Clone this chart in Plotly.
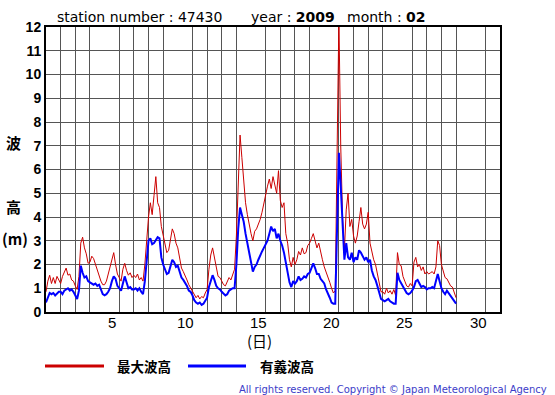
import numpy as np
import plotly.graph_objects as go

# ---------------- data (3-hourly readings, Feb 2009, station 47430) ----------------
station = "47430"
year = "2009"
month = "02"
start_day = 1
steps_per_day = 8

# significant wave height (m), 8 values per day, day 1 .. day 28, plus final value
sig_height = [
    0.4, 0.65, 0.8, 0.75, 0.8, 0.7, 0.8, 0.85,      # 1
    0.85, 0.75, 0.9, 0.95, 1.0, 0.9, 0.95, 0.85,    # 2
    0.7, 0.55, 0.9, 1.95, 1.65, 1.45, 1.5, 1.3,     # 3
    1.25, 1.2, 1.15, 1.2, 1.1, 1.15, 0.95, 0.75,    # 4
    0.7, 0.75, 0.85, 1.0, 1.3, 1.5, 1.4, 1.1,       # 5
    1.0, 0.9, 1.2, 1.5, 1.25, 1.0, 1.05, 0.95,      # 6
    0.95, 1.0, 0.9, 1.0, 0.85, 0.75, 1.3, 2.2,      # 7
    3.0, 3.1, 2.85, 2.9, 3.0, 3.15, 3.1, 2.3,       # 8
    2.0, 1.75, 1.6, 1.65, 1.9, 2.2, 2.1, 1.9,       # 9
    1.95, 1.7, 1.45, 1.35, 1.25, 1.1, 0.9, 0.85,    # 10
    0.7, 0.5, 0.4, 0.35, 0.4, 0.3, 0.35, 0.45,      # 11
    0.6, 1.05, 1.35, 1.55, 1.35, 1.1, 1.0, 0.95,    # 12
    0.85, 0.75, 0.7, 0.75, 0.9, 0.95, 1.0, 1.0,     # 13
    2.0, 3.5, 4.4, 4.1, 3.8, 3.3, 2.9, 2.4,         # 14
    2.1, 1.7, 1.9, 2.0, 2.2, 2.4, 2.55, 2.7,        # 15
    2.85, 3.0, 3.3, 3.6, 3.4, 3.5, 3.1, 3.3,        # 16
    3.0, 2.8, 2.5, 2.1, 1.8, 1.25, 1.05, 1.3,       # 17
    1.2, 1.3, 1.5, 1.35, 1.4, 1.5, 1.45, 1.6,       # 18
    1.65, 1.9, 2.05, 1.85, 1.6, 1.6, 1.4, 1.3,      # 19
    1.2, 0.95, 0.8, 0.6, 0.4, 0.35, 0.35, 3.8,      # 20
    6.7, 5.3, 3.4, 2.2, 2.9, 2.3, 2.2, 2.5,         # 21
    2.1, 2.3, 2.2, 2.6, 2.5, 2.35, 2.2, 2.3,        # 22
    2.1, 2.2, 1.75, 1.5, 1.35, 1.1, 0.8, 0.55,      # 23
    0.5, 0.45, 0.5, 0.55, 0.45, 0.4, 0.35, 0.35,    # 24
    1.65, 1.35, 1.2, 1.05, 0.95, 0.8, 0.75, 0.8,    # 25
    0.9, 1.05, 1.3, 1.35, 1.2, 1.05, 1.1, 1.05,     # 26
    0.95, 1.0, 1.0, 1.05, 1.0, 1.3, 1.6, 1.3,       # 27
    1.0, 0.85, 0.75, 0.9, 0.8, 0.65, 0.55, 0.5,     # 28
    0.35,
]

# maximum wave height (m)
max_height = [
    0.85, 1.3, 1.55, 1.2, 1.45, 1.2, 1.5, 1.35,     # 1
    1.2, 1.5, 1.7, 1.85, 1.55, 1.6, 1.35, 1.3,      # 2
    1.1, 0.95, 1.5, 2.9, 3.15, 2.7, 2.45, 2.05,     # 3
    2.1, 2.35, 2.25, 2.0, 1.7, 1.45, 1.3, 1.15,     # 4
    1.15, 1.3, 1.6, 1.95, 2.3, 2.5, 2.0, 1.6,       # 5
    1.45, 1.3, 1.8, 2.05, 1.75, 1.55, 1.65, 1.45,   # 6
    1.55, 1.45, 1.6, 1.35, 1.45, 1.3, 2.0, 3.2,     # 7
    4.0, 4.6, 4.1, 4.9, 5.7, 4.6, 4.4, 3.6,         # 8
    3.2, 2.75, 2.5, 2.6, 3.1, 3.5, 3.3, 2.9,        # 9
    2.7, 2.2, 1.85, 1.7, 1.55, 1.35, 1.15, 1.0,     # 10
    0.85, 0.75, 0.6, 0.7, 0.55, 0.65, 0.6, 0.8,     # 11
    0.95, 1.8, 2.4, 2.7, 2.3, 1.9, 1.5, 1.45,       # 12
    1.3, 1.15, 1.1, 1.25, 1.45, 1.35, 1.55, 1.8,    # 13
    3.2, 5.5, 7.45, 6.5, 5.6, 4.6, 4.1, 3.6,        # 14
    3.3, 3.0, 3.4, 3.5, 3.7, 3.9, 4.2, 4.6,         # 15
    5.0, 5.3, 5.6, 5.2, 5.7, 5.4, 5.0, 5.95,        # 16
    4.7, 4.4, 4.6, 3.3, 2.9, 2.2, 1.9, 2.3,         # 17
    2.0, 2.2, 2.55, 2.4, 2.7, 2.45, 2.5, 2.8,       # 18
    2.9, 3.1, 3.3, 3.0, 2.7, 2.9, 2.5, 2.2,         # 19
    1.9, 1.7, 1.5, 1.25, 1.0, 0.8, 0.9, 8.0,        # 20
    12.4, 7.0, 4.0, 2.6, 4.3, 5.0, 3.6, 3.9,        # 21
    3.2, 2.9, 3.2, 3.8, 4.4, 3.7, 3.5, 3.7,         # 22
    4.2, 2.9, 2.5, 2.2, 2.0, 1.6, 1.1, 0.85,        # 23
    0.85, 0.75, 1.0, 0.8, 0.9, 0.75, 0.95, 0.7,     # 24
    2.5, 2.0, 1.95, 1.5, 1.3, 1.1, 1.05, 1.2,       # 25
    1.1, 2.1, 2.3, 1.9, 2.0, 1.75, 1.9, 1.6,        # 26
    1.7, 1.6, 1.65, 1.7, 1.6, 1.9, 3.0, 2.8,        # 27
    2.0, 1.75, 1.45, 1.4, 1.25, 1.1, 1.05, 0.85,    # 28
    0.6,
]

x_tick_days = [5, 10, 15, 20, 25, 30]
y_ticks = list(range(0, 13))
series_names = ["最大波高", "有義波高"]
series_colors = ["#cc0000", "#0000ff"]

# ---------------- figure ----------------
time = start_day + np.arange(len(sig_height)) / steps_per_day

W, H = 555, 395
L, R, T, B = 46, 500, 27, 312


def px(x):
    return (x - L) / (R - L)


def py(y):
    return (B - y) / (B - T)


FONT = "Liberation Sans, Arial, sans-serif"
HFONT = "DejaVu Sans, sans-serif"
CJK = "Noto Sans CJK JP, sans-serif"

fig = go.Figure()
fig.add_trace(go.Scatter(x=time, y=max_height, mode="lines",
                         line=dict(color=series_colors[0], width=1),
                         name=series_names[0], showlegend=False))
fig.add_trace(go.Scatter(x=time, y=sig_height, mode="lines",
                         line=dict(color=series_colors[1], width=2),
                         name=series_names[1], showlegend=False))

fig.update_layout(
    width=W, height=H,
    margin=dict(l=L, r=W - R, t=T, b=H - B, autoexpand=False),
    paper_bgcolor="white", plot_bgcolor="white",
    showlegend=False,
)

fig.update_xaxes(
    range=[1, 32], showgrid=False, zeroline=False,
    showticklabels=False, ticks="",
    showline=True, linecolor="black", linewidth=2, mirror=True,
    minor=dict(tickmode="linear", tick0=1, dtick=1, showgrid=True,
               gridcolor="#555555", gridwidth=1, ticklen=0),
)
fig.update_yaxes(
    range=[0, 12], tickmode="array", tickvals=y_ticks,
    ticktext=[str(v) for v in y_ticks],
    showgrid=True, gridcolor="#555555", gridwidth=1, zeroline=False,
    ticks="", tickfont=dict(family=FONT, size=14, color="black", weight="bold"),
    showline=True, linecolor="black", linewidth=2, mirror=True,
)

ann = []
# x tick labels: centred in the cell of each labelled day
for d in x_tick_days:
    ann.append(dict(text=str(d), x=d + 0.5, xref="x", y=py(322), yref="paper",
                    xanchor="center", yanchor="middle", showarrow=False,
                    font=dict(family=FONT, size=15, color="black")))
# header
ann.append(dict(text="station number : " + station, x=px(55), y=py(17),
                xanchor="left", yanchor="middle", showarrow=False,
                font=dict(family=HFONT, size=14, color="black")))
ann.append(dict(text="year : <b>" + year + "</b>", x=px(249), y=py(17),
                xanchor="left", yanchor="middle", showarrow=False,
                font=dict(family=HFONT, size=14, color="black")))
ann.append(dict(text="month : <b>" + month + "</b>", x=px(345), y=py(17),
                xanchor="left", yanchor="middle", showarrow=False,
                font=dict(family=HFONT, size=14, color="black")))
# y-axis title
for txt, yy, xx in [("波", 142, 13), ("高", 206, 13), ("(m)", 238, 15)]:
    ann.append(dict(text=txt, x=px(xx), y=py(yy), xanchor="center", yanchor="middle",
                    showarrow=False, font=dict(family=CJK, size=15, color="black", weight="bold")))
# x-axis title
ann.append(dict(text="(日)", x=px(259), y=py(340), xanchor="center", yanchor="middle",
                showarrow=False, font=dict(family=CJK, size=15, color="black")))
# legend texts
ann.append(dict(text=series_names[0], x=px(115), y=py(366), xanchor="left", yanchor="middle",
                showarrow=False, font=dict(family=CJK, size=13.5, color="black", weight="bold")))
ann.append(dict(text=series_names[1], x=px(258), y=py(366), xanchor="left", yanchor="middle",
                showarrow=False, font=dict(family=CJK, size=13.5, color="black", weight="bold")))
# copyright
ann.append(dict(text="All rights reserved. Copyright © Japan Meteorological Agency",
                x=px(549), y=py(389), xanchor="right", yanchor="middle", showarrow=False,
                font=dict(family=HFONT, size=10, color="#3c3cc8")))
for a in ann:
    a.setdefault("xref", "paper")
    a.setdefault("yref", "paper")
fig.update_layout(annotations=ann)

shapes = [
    dict(type="line", xref="paper", yref="paper", x0=px(45), x1=px(104), y0=py(366), y1=py(366),
         line=dict(color=series_colors[0], width=3)),
    dict(type="line", xref="paper", yref="paper", x0=px(188), x1=px(246), y0=py(366), y1=py(366),
         line=dict(color=series_colors[1], width=3)),
]
fig.update_layout(shapes=shapes)

fig.write_html("out.html", config=dict(displayModeBar=False),
               post_script="document.body.style.margin='0';document.body.style.overflow='hidden';")
